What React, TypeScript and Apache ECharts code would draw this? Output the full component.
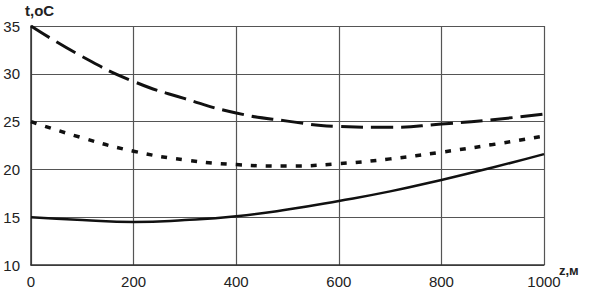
import React, { useEffect, useRef } from "react";
import * as echarts from "echarts";

const zValues = [0, 100, 200, 300, 400, 500, 600, 700, 800, 900, 1000];
const dashedSeries = [35, 31.8, 29.2, 27.4, 25.9, 25.05, 24.5, 24.4, 24.75, 25.2, 25.8];
const dottedSeries = [25, 23.3, 21.9, 21.0, 20.5, 20.35, 20.6, 21.1, 21.8, 22.6, 23.5];
const solidSeries = [15, 14.7, 14.5, 14.7, 15.1, 15.8, 16.7, 17.7, 18.9, 20.2, 21.6];
const yTitle = "t,oC";
const xTitle = "z,м";

const pair = (vals: number[]) => zValues.map((z, i) => [z, vals[i]]);

export default function App() {
  const ref = useRef<HTMLDivElement>(null);
  useEffect(() => {
    if (!ref.current) return;
    const chart = echarts.init(ref.current, null, { renderer: "svg" });
    const font = "Arial, 'Liberation Sans', sans-serif";
    chart.setOption({
      animation: false,
      backgroundColor: "#fff",
      grid: { left: 31, right: 47, top: 26, bottom: 40 },
      xAxis: {
        type: "value",
        min: 0,
        max: 1000,
        interval: 200,
        axisLine: { show: true, lineStyle: { color: "#333", width: 1.5 } },
        axisTick: { show: false },
        axisLabel: {
          color: "#222",
          fontSize: 15,
          fontFamily: font,
          margin: 9,
          formatter: (v: number) => String(v),
        },
        splitLine: { show: true, lineStyle: { color: "#555", width: 1.2 } },
      },
      yAxis: {
        type: "value",
        min: 10,
        max: 35,
        interval: 5,
        axisLine: { show: true, lineStyle: { color: "#333", width: 1.5 } },
        axisTick: { show: false },
        axisLabel: { color: "#222", fontSize: 15, fontFamily: font, margin: 11 },
        splitLine: { show: true, lineStyle: { color: "#555", width: 1.2 } },
      },
      graphic: [
        {
          type: "text",
          left: 25,
          top: 3,
          style: { text: yTitle, fill: "#222", font: `bold 15px ${font}` },
        },
        {
          type: "text",
          left: 559,
          top: 264,
          style: { text: xTitle, fill: "#222", font: `bold 13px ${font}` },
        },
      ],
      series: [
        {
          type: "line",
          data: pair(dashedSeries),
          smooth: true,
          showSymbol: false,
          lineStyle: { color: "#111", width: 3, type: [22, 8] },
        },
        {
          type: "line",
          data: pair(dottedSeries),
          smooth: true,
          showSymbol: false,
          lineStyle: { color: "#111", width: 3.5, type: [6, 9] },
        },
        {
          type: "line",
          data: pair(solidSeries),
          smooth: true,
          showSymbol: false,
          lineStyle: { color: "#111", width: 2.5 },
        },
      ],
    });
    return () => chart.dispose();
  }, []);
  return <div ref={ref} style={{ width: 591, height: 305, position: "absolute", left: 0, top: 0 }} />;
}
